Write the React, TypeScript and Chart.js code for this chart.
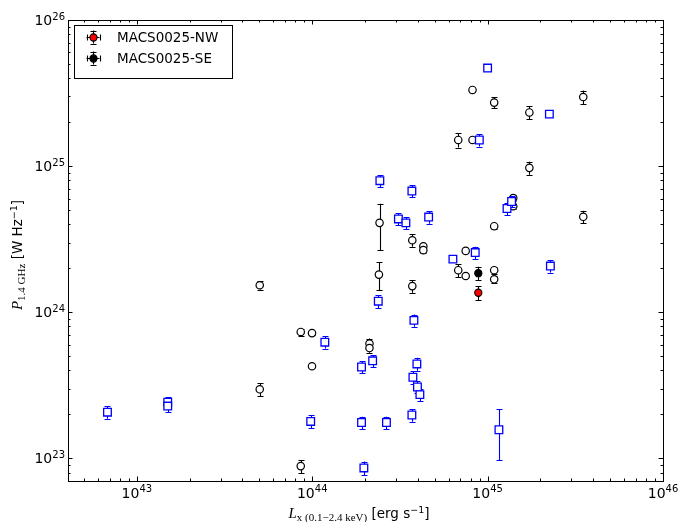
import React, { useEffect, useRef } from "react";
import { Chart, registerables } from "chart.js";

Chart.register(...registerables);

// ---- axis ranges and ticks ----
const xMin = 4.05e42;
const xMax = 1e46;
const yMin = 7e22;
const yMax = 1e26;
const xTickExponents = [43, 44, 45, 46];
const yTickExponents = [23, 24, 25, 26];
const xMinorDecades = [42, 43, 44, 45];
const yMinorDecades = [22, 23, 24, 25];
const minorMultipliers = [2, 3, 4, 5, 6, 7, 8, 9];

// ---- blue squares ----
const sqX = [6.8e42, 1.5e43, 1.5e43, 9.8e43, 1.18e44, 1.91e44, 2.21e44, 1.91e44, 2.65e44, 1.97e44, 2.38e44, 3.8e44, 3.95e44, 3.75e44, 3.98e44, 4.11e44, 3.7e44, 1.16e45, 2.28e45, 1.0e45, 2.25e45, 8.97e44, 2.43e44, 3.7e44, 3.1e44, 3.42e44, 4.61e44, 1.29e45, 1.37e45, 6.34e44, 8.5e44];
const sqY = [2.07e23, 2.42e23, 2.28e23, 1.79e23, 6.24e23, 4.22e23, 4.65e23, 1.76e23, 1.76e23, 8.6e22, 1.19e24, 8.8e23, 4.43e23, 3.59e23, 3.08e23, 2.73e23, 1.98e23, 1.57e23, 2.07e24, 4.69e25, 2.27e25, 1.51e25, 7.95e24, 6.75e24, 4.35e24, 4.09e24, 4.48e24, 5.13e24, 5.73e24, 2.31e24, 2.56e24];
const sqErr = [0.2e23, 0.2e23, 0.2e23, 0.18e23, 0.6e23, 0.4e23, 0.45e23, 0.17e23, 0.17e23, 0.9e22, 0.12e24, 0.85e23, 0.45e23, 0.35e23, 0.3e23, 0.27e23, 0.2e23, 0.6e23, 0.2e24, 0.2e25, 0, 0.15e25, 0.75e24, 0.65e24, 0.4e24, 0.4e24, 0.45e24, 0.5e24, 0.5e24, 0, 0.25e24];

// ---- black open circles ----
const ciX = [5.02e43, 5.02e43, 8.6e43, 9.97e43, 9.97e43, 8.6e43, 2.4e44, 3.72e44, 2.12e44, 2.12e44, 6.8e44, 7.5e44, 1.09e45, 1.09e45, 2.42e44, 3.72e44, 4.3e44, 4.3e44, 7.5e44, 1.09e45, 1.4e45, 1.4e45, 1.73e45, 3.51e45, 6.8e44, 8.2e44, 8.2e44, 1.09e45, 1.73e45, 3.51e45];
const ciY = [1.53e24, 2.97e23, 7.33e23, 7.2e23, 4.27e23, 8.85e22, 1.81e24, 1.51e24, 6.1e23, 5.69e23, 1.94e24, 1.77e24, 1.94e24, 1.68e24, 4.09e24, 3.11e24, 2.83e24, 2.66e24, 2.63e24, 3.88e24, 6.04e24, 5.32e24, 9.73e24, 4.5e24, 1.51e25, 1.51e25, 3.32e25, 2.72e25, 2.33e25, 2.97e25];
const ciErr = [0.1e24, 0.3e23, 0.4e23, 0.2e23, 0, 0.9e22, 0.39e24, 0.15e24, 0.5e23, 0.4e23, 0.2e24, 0, 0.1e24, 0.1e24, 1.43e24, 0.3e24, 0.1e24, 0.1e24, 0, 0.15e24, 0.3e24, 0.2e24, 1.0e24, 0.45e24, 0.17e25, 0.03e25, 0.12e25, 0.24e25, 0.23e25, 0.32e25];

// ---- MACS0025 ----
const nwLabel = "MACS0025-NW";
const seLabel = "MACS0025-SE";
const nwX = [8.85e44];
const nwY = [1.36e24];
const nwYErr = [0.15e24];
const nwXErr = [0.03e44];
const seX = [8.85e44];
const seY = [1.85e24];
const seYErr = [0.2e24];
const seXErr = [0.03e44];

const SANS = '"DejaVu Sans", sans-serif';
const SERIF = '"Liberation Serif", "DejaVu Serif", serif';

type Seg = { t: string; font: string; dy: number };

function segWidth(ctx: CanvasRenderingContext2D, segs: Seg[]) {
  let w = 0;
  for (const s of segs) {
    ctx.font = s.font;
    w += ctx.measureText(s.t).width;
  }
  return w;
}

function drawSegs(ctx: CanvasRenderingContext2D, segs: Seg[], x: number, y: number) {
  let cx = x;
  for (const s of segs) {
    ctx.font = s.font;
    ctx.fillText(s.t, cx, y + s.dy);
    cx += ctx.measureText(s.t).width;
  }
}

function powSegs(exp: number): Seg[] {
  return [
    { t: "10", font: `14px ${SANS}`, dy: 0 },
    { t: String(exp), font: `10px ${SANS}`, dy: -5.5 },
  ];
}

function drawErr(
  ctx: CanvasRenderingContext2D,
  px: number,
  py: number,
  x1: number | null,
  x2: number | null,
  y1: number | null,
  y2: number | null
) {
  const cap = 3;
  ctx.beginPath();
  if (y1 !== null && y2 !== null) {
    const xx = Math.round(px) + 0.5;
    ctx.moveTo(xx, y1);
    ctx.lineTo(xx, y2);
    ctx.moveTo(xx - cap, Math.round(y1) + 0.5);
    ctx.lineTo(xx + cap, Math.round(y1) + 0.5);
    ctx.moveTo(xx - cap, Math.round(y2) + 0.5);
    ctx.lineTo(xx + cap, Math.round(y2) + 0.5);
  }
  if (x1 !== null && x2 !== null) {
    const yy = Math.round(py) + 0.5;
    ctx.moveTo(x1, yy);
    ctx.lineTo(x2, yy);
    ctx.moveTo(Math.round(x1) + 0.5, yy - cap);
    ctx.lineTo(Math.round(x1) + 0.5, yy + cap);
    ctx.moveTo(Math.round(x2) + 0.5, yy - cap);
    ctx.lineTo(Math.round(x2) + 0.5, yy + cap);
  }
  ctx.stroke();
}

const errorBarPlugin = {
  id: "errorBars",
  beforeDatasetDraw(chart: any, args: any) {
    const ds: any = chart.data.datasets[args.index];
    const xs = chart.scales.x;
    const ys = chart.scales.y;
    const ctx: CanvasRenderingContext2D = chart.ctx;
    ctx.save();
    ctx.strokeStyle = ds.errColor;
    ctx.lineWidth = 1.1;
    ds.data.forEach((p: any, i: number) => {
      const px = xs.getPixelForValue(p.x);
      const py = ys.getPixelForValue(p.y);
      const ey = ds.yErr ? ds.yErr[i] : 0;
      const ex = ds.xErr ? ds.xErr[i] : 0;
      drawErr(
        ctx,
        px,
        py,
        ex > 0 ? xs.getPixelForValue(p.x - ex) : null,
        ex > 0 ? xs.getPixelForValue(p.x + ex) : null,
        ey > 0 ? ys.getPixelForValue(p.y + ey) : null,
        ey > 0 ? ys.getPixelForValue(p.y - ey) : null
      );
    });
    ctx.restore();
  },
};

const axesPlugin = {
  id: "axesDecor",
  afterDraw(chart: any) {
    const ctx: CanvasRenderingContext2D = chart.ctx;
    const xs = chart.scales.x;
    const ys = chart.scales.y;
    const { left, right, top, bottom } = chart.chartArea;
    ctx.save();
    ctx.strokeStyle = "#000";
    ctx.fillStyle = "#000";
    ctx.lineWidth = 1;

    // frame
    ctx.strokeRect(Math.round(left) + 0.5, Math.round(top) + 0.5, Math.round(right - left), Math.round(bottom - top));

    const majorLen = 4.5;
    const minorLen = 2.5;
    ctx.beginPath();
    const xTick = (v: number, len: number) => {
      const px = Math.round(xs.getPixelForValue(v)) + 0.5;
      ctx.moveTo(px, bottom);
      ctx.lineTo(px, bottom - len);
      ctx.moveTo(px, top);
      ctx.lineTo(px, top + len);
    };
    const yTick = (v: number, len: number) => {
      const py = Math.round(ys.getPixelForValue(v)) + 0.5;
      ctx.moveTo(left, py);
      ctx.lineTo(left + len, py);
      ctx.moveTo(right, py);
      ctx.lineTo(right - len, py);
    };
    xTickExponents.forEach((e) => xTick(Math.pow(10, e), majorLen));
    xMinorDecades.forEach((d) =>
      minorMultipliers.forEach((m) => {
        const v = m * Math.pow(10, d);
        if (v >= xMin && v <= xMax) xTick(v, minorLen);
      })
    );
    yTickExponents.forEach((e) => yTick(Math.pow(10, e), majorLen));
    yMinorDecades.forEach((d) =>
      minorMultipliers.forEach((m) => {
        const v = m * Math.pow(10, d);
        if (v >= yMin && v <= yMax) yTick(v, minorLen);
      })
    );
    ctx.stroke();

    // tick labels
    ctx.textBaseline = "alphabetic";
    ctx.textAlign = "left";
    xTickExponents.forEach((e) => {
      const px = xs.getPixelForValue(Math.pow(10, e));
      const segs = powSegs(e);
      const w = segWidth(ctx, segs);
      drawSegs(ctx, segs, px - w / 2, bottom + 16.5);
    });
    yTickExponents.forEach((e) => {
      const py = ys.getPixelForValue(Math.pow(10, e));
      const segs = powSegs(e);
      const w = segWidth(ctx, segs);
      drawSegs(ctx, segs, left - 3 - w, py + 5);
    });

    // axis titles
    const xTitle: Seg[] = [
      { t: "L", font: `italic 15px ${SERIF}`, dy: 0 },
      { t: "x (0.1\u22122.4 keV)", font: `11px ${SERIF}`, dy: 3 },
      { t: " [erg s", font: `13.5px ${SANS}`, dy: 0 },
      { t: "\u22121", font: `9.5px ${SANS}`, dy: -5.5 },
      { t: "]", font: `13.5px ${SANS}`, dy: 0 },
    ];
    const xw = segWidth(ctx, xTitle);
    drawSegs(ctx, xTitle, 359 - xw / 2, 518);

    const yTitle: Seg[] = [
      { t: "P", font: `italic 15px ${SERIF}`, dy: 0 },
      { t: "1.4 GHz", font: `11px ${SERIF}`, dy: 3 },
      { t: " [W Hz", font: `13.5px ${SANS}`, dy: 0 },
      { t: "\u22121", font: `9.5px ${SANS}`, dy: -5.5 },
      { t: "]", font: `13.5px ${SANS}`, dy: 0 },
    ];
    const yw = segWidth(ctx, yTitle);
    ctx.save();
    ctx.translate(22, 255);
    ctx.rotate(-Math.PI / 2);
    drawSegs(ctx, yTitle, -yw / 2, 0);
    ctx.restore();

    // legend
    const lx = 74.5, ly = 25.5, lw = 158, lh = 53;
    ctx.fillStyle = "#fff";
    ctx.fillRect(lx, ly, lw, lh);
    ctx.strokeStyle = "#000";
    ctx.strokeRect(lx, ly, lw, lh);
    const entries = [
      { ds: chart.data.datasets[0], cy: 37 },
      { ds: chart.data.datasets[1], cy: 58 },
    ];
    entries.forEach(({ ds, cy }) => {
      const mx = 93;
      ctx.strokeStyle = "#000";
      ctx.lineWidth = 1.1;
      drawErr(ctx, mx, cy, mx - 6.5, mx + 6.5, cy - 6.5, cy + 6.5);
      ctx.beginPath();
      ctx.arc(mx + 0.5, cy + 0.5, 3.6, 0, Math.PI * 2);
      ctx.fillStyle = ds.pointBackgroundColor;
      ctx.fill();
      ctx.stroke();
      ctx.fillStyle = "#000";
      ctx.font = `13.5px ${SANS}`;
      ctx.textBaseline = "middle";
      ctx.fillText(ds.label, 117, cy + 1);
      ctx.textBaseline = "alphabetic";
    });

    ctx.restore();
  },
};

export default function App() {
  const ref = useRef<HTMLCanvasElement | null>(null);

  useEffect(() => {
    if (!ref.current) return;
    const toPts = (xs: number[], ys: number[]) => xs.map((x, i) => ({ x, y: ys[i] }));
    const chart = new Chart(ref.current, {
      type: "scatter",
      data: {
        datasets: [
          {
            label: nwLabel,
            data: toPts(nwX, nwY),
            pointStyle: "circle",
            pointRadius: 3.6,
            pointBackgroundColor: "#ff0000",
            pointBorderColor: "#000000",
            pointBorderWidth: 1.1,
            yErr: nwYErr,
            xErr: nwXErr,
            errColor: "#000000",
          } as any,
          {
            label: seLabel,
            data: toPts(seX, seY),
            pointStyle: "circle",
            pointRadius: 3.6,
            pointBackgroundColor: "#000000",
            pointBorderColor: "#000000",
            pointBorderWidth: 1.1,
            yErr: seYErr,
            xErr: seXErr,
            errColor: "#000000",
          } as any,
          {
            label: "squares",
            data: toPts(sqX, sqY),
            pointStyle: "rect",
            pointRadius: 5.4,
            pointBackgroundColor: "#ffffff",
            pointBorderColor: "#0000ff",
            pointBorderWidth: 1.3,
            yErr: sqErr,
            errColor: "#0000ff",
          } as any,
          {
            label: "circles",
            data: toPts(ciX, ciY),
            pointStyle: "circle",
            pointRadius: 3.7,
            pointBackgroundColor: "#ffffff",
            pointBorderColor: "#000000",
            pointBorderWidth: 1.2,
            yErr: ciErr,
            errColor: "#000000",
          } as any,
        ],
      },
      options: {
        responsive: false,
        animation: false,
        devicePixelRatio: 1,
        events: [],
        layout: { padding: { left: 68, right: 15, top: 20, bottom: 41 } },
        scales: {
          x: { type: "logarithmic", min: xMin, max: xMax, display: false },
          y: { type: "logarithmic", min: yMin, max: yMax, display: false },
        },
        plugins: {
          legend: { display: false },
          tooltip: { enabled: false },
        },
      },
      plugins: [errorBarPlugin, axesPlugin],
    } as any);
    return () => chart.destroy();
  }, []);

  return (
    <div style={{ position: "absolute", left: 0, top: 0, width: 678, height: 522, background: "#fff" }}>
      <canvas ref={ref} width={678} height={522} style={{ display: "block" }} />
    </div>
  );
}
